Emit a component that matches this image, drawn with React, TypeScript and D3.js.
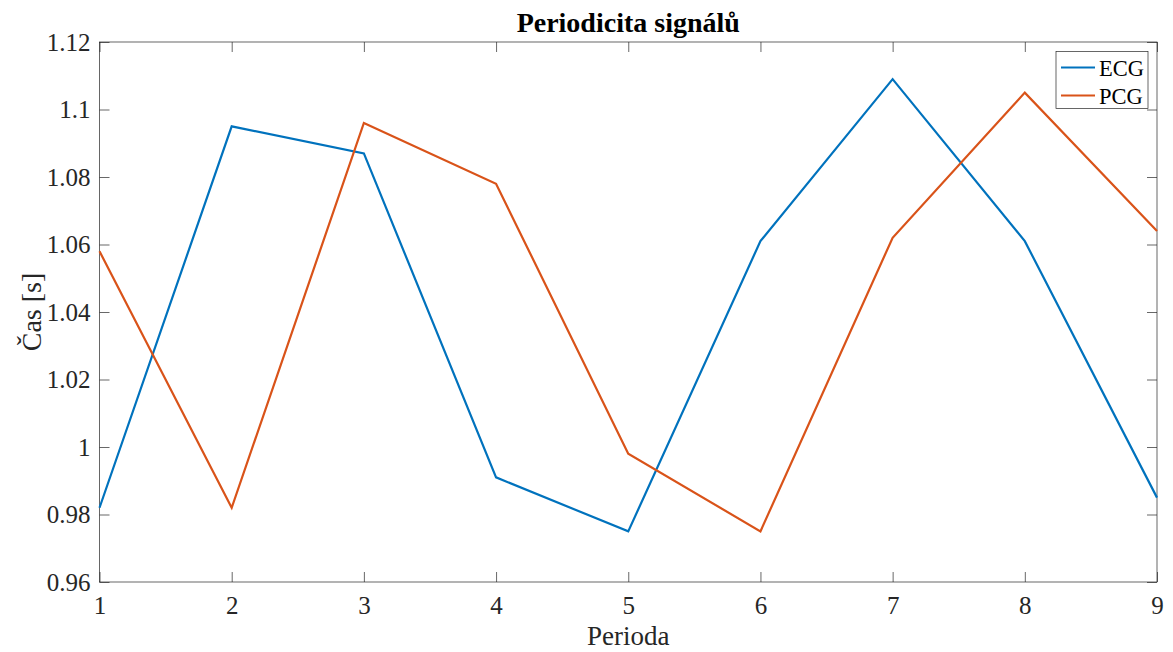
import * as d3 from 'd3';
import React, { useRef, useEffect } from 'react';

const periods = [1, 2, 3, 4, 5, 6, 7, 8, 9];
const ecg = [0.982, 1.095, 1.087, 0.991, 0.975, 1.061, 1.109, 1.061, 0.985];
const pcg = [1.058, 0.982, 1.096, 1.078, 0.998, 0.975, 1.062, 1.105, 1.064];
const yTicks = [0.96, 0.98, 1, 1.02, 1.04, 1.06, 1.08, 1.1, 1.12];
const seriesNames = ['ECG', 'PCG'];
const seriesColors = ['#0072BD', '#D95319'];

const width = 1173;
const height = 652;
const margin = { top: 42, right: 16, bottom: 70, left: 99.5 };
const font = '"Liberation Serif", "Times New Roman", serif';

function PeriodChart() {
  const ref = useRef<SVGSVGElement>(null);

  useEffect(() => {
    const svg = d3.select(ref.current);
    svg.selectAll('*').remove();

    const x = d3.scaleLinear().domain([1, 9]).range([margin.left, width - margin.right]);
    const y = d3.scaleLinear().domain([0.96, 1.12]).range([height - margin.bottom, margin.top]);
    const axisColor = '#262626';
    const tickLen = 10;

    // ticks point inward and are mirrored on top/right
    const bottomAxis = d3.axisBottom(x).tickValues(periods).tickSize(-tickLen).tickPadding(14).tickFormat(d3.format('d'));
    const topAxis = d3.axisTop(x).tickValues(periods).tickSize(-tickLen).tickFormat(() => '');
    const leftAxis = d3.axisLeft(y).tickValues(yTicks).tickSize(-tickLen).tickPadding(9).tickFormat((d) => String(+d));
    const rightAxis = d3.axisRight(y).tickValues(yTicks).tickSize(-tickLen).tickFormat(() => '');

    const styleAxis = (g: any) => {
      g.attr('font-family', font).attr('font-size', 25);
      g.selectAll('line').attr('stroke', axisColor).attr('stroke-width', 0.7);
      g.selectAll('text').attr('fill', axisColor);
    };

    svg.append('g').attr('transform', `translate(0,${height - margin.bottom})`).call(bottomAxis).call(styleAxis);
    svg.append('g').attr('transform', `translate(0,${margin.top})`).call(topAxis).call(styleAxis);
    svg.append('g').attr('transform', `translate(${margin.left},0)`).call(leftAxis).call(styleAxis);
    svg.append('g').attr('transform', `translate(${width - margin.right},0)`).call(rightAxis).call(styleAxis);

    svg.selectAll('.domain').remove();
    svg
      .append('rect')
      .attr('x', margin.left)
      .attr('y', margin.top)
      .attr('width', width - margin.right - margin.left)
      .attr('height', height - margin.bottom - margin.top)
      .attr('fill', 'none')
      .attr('stroke', axisColor)
      .attr('stroke-width', 0.7);

    const line = d3
      .line<number>()
      .x((_, i) => x(periods[i]))
      .y((d) => y(d));

    [ecg, pcg].forEach((s, i) => {
      svg
        .append('path')
        .datum(s)
        .attr('d', line)
        .attr('fill', 'none')
        .attr('stroke', seriesColors[i])
        .attr('stroke-width', 2.2);
    });

    // title
    svg
      .append('text')
      .attr('x', (margin.left + width - margin.right) / 2)
      .attr('y', 32)
      .attr('text-anchor', 'middle')
      .attr('font-family', font)
      .attr('font-size', 28)
      .attr('font-weight', 'bold')
      .attr('fill', '#000')
      .text('Periodicita signálů');

    // axis labels
    svg
      .append('text')
      .attr('x', (margin.left + width - margin.right) / 2)
      .attr('y', 645)
      .attr('text-anchor', 'middle')
      .attr('font-family', font)
      .attr('font-size', 27)
      .attr('fill', axisColor)
      .text('Perioda');

    svg
      .append('text')
      .attr('transform', `translate(41,${(margin.top + height - margin.bottom) / 2}) rotate(-90)`)
      .attr('text-anchor', 'middle')
      .attr('font-family', font)
      .attr('font-size', 28)
      .attr('fill', axisColor)
      .text('Čas [s]');

    // legend
    const legend = svg.append('g').attr('transform', 'translate(1056,51.5)');
    legend.append('rect').attr('width', 92).attr('height', 57).attr('fill', '#fff').attr('stroke', axisColor).attr('stroke-width', 0.7);
    seriesNames.forEach((name, i) => {
      const cy = 16 + i * 28;
      legend.append('line').attr('x1', 5).attr('x2', 39).attr('y1', cy).attr('y2', cy).attr('stroke', seriesColors[i]).attr('stroke-width', 2.2);
      legend
        .append('text')
        .attr('x', 43)
        .attr('y', cy + 8)
        .attr('font-family', font)
        .attr('font-size', 22.5)
        .attr('fill', '#000')
        .text(name);
    });
  }, []);

  return <svg ref={ref} width={width} height={height} style={{ display: 'block', background: '#fff' }} />;
}

export default function App() {
  return (
    <div style={{ position: 'absolute', left: 0, top: 0 }}>
      <PeriodChart />
    </div>
  );
}
